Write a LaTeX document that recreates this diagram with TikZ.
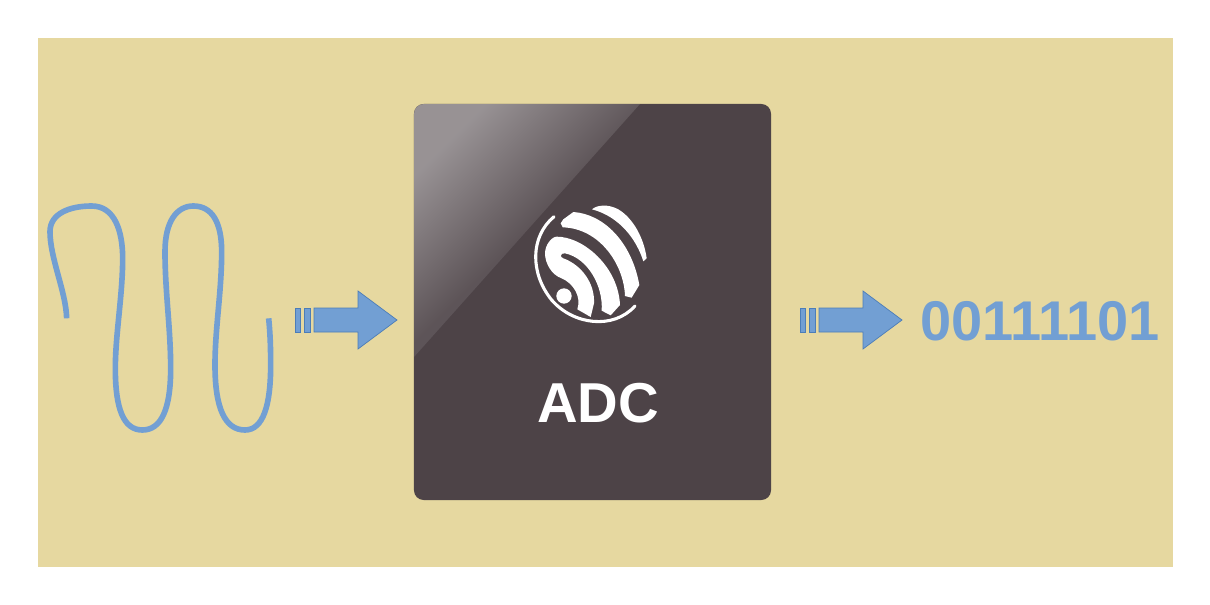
\documentclass[tikz,border=0pt]{standalone}
\usepackage{fontspec}
\setmainfont{Liberation Sans}
\usepackage{xcolor}
\usetikzlibrary{positioning, calc}
\definecolor{sfondo}{HTML}{E6D8A0}
\definecolor{chipcol}{HTML}{4D4347}
\definecolor{blu}{HTML}{729FD3}
\definecolor{blubordo}{HTML}{4C7DB8}
\tikzset{
    sfondobox/.style={fill=sfondo, draw=none, minimum width=28.375cm, minimum height=13.225cm, inner sep=0pt},
    chipbox/.style={fill=chipcol, draw=none, rounded corners=7pt, minimum width=8.925cm, minimum height=9.9cm, inner sep=0pt},
    freccia/.style={fill=blu, draw=blubordo, line width=0.5pt, line join=miter},
    onda/.style={draw=blu, line width=4pt, line cap=butt},
    logo/.style={fill=white, draw=none},
    titolo/.style={font=\bfseries\fontsize{40}{44}\selectfont, text=white, inner sep=0pt},
    bits/.style={font=\bfseries\fontsize{39.8}{44}\selectfont, text=blu, inner sep=0pt}
}
\begin{document}
\begin{tikzpicture}[x=0.025cm, y=-0.025cm]
    \useasboundingbox (0,0) rectangle (1210,605);
    \node[sfondobox] (Sfondo) at (605.5,302.5) {};
    \node[chipbox] (Chip) at (592.5,302) {};

    \shade[top color=white!42!chipcol, bottom color=white!9!chipcol, middle color=white!9!chipcol, shading angle=45]
        (414,357) {[rounded corners=7pt] -- (414,104)} -- (640,104) -- cycle;

    \begin{scope}[shift={(520,190)}, scale=1/3]
        \fill[logo] (216,58) .. controls (232,44) and (265,42) .. (295,58) .. controls (340,85) and (372,145) .. (380,205) -- (370,214) .. controls (350,150) and (300,80) .. (216,58) -- cycle;
        \fill[logo] (160,66) .. controls (250,72) and (335,155) .. (358,285) -- (335,323) -- (315,318) .. controls (312,225) and (240,115) .. (128,112) -- (122,100) -- (130,88) -- cycle;
        \fill[logo] (110,140) .. controls (190,140) and (295,230) .. (300,345) -- (272,376) -- (245,362) .. controls (250,290) and (205,205) .. (135,190) .. controls (122,188) and (118,202) .. (130,205) .. controls (185,225) and (225,280) .. (222,340) -- (212,381) -- (172,358) .. controls (185,320) and (160,280) .. (125,265) .. controls (95,255) and (75,220) .. (75,190) .. controls (75,165) and (95,140) .. (110,140) -- cycle;
        \fill[logo] (132,318) circle (23);
        \draw[white, line width=2.2pt, line cap=round] (102,80) .. controls (30,140) and (30,250) .. (95,330) .. controls (160,405) and (280,420) .. (345,348);
    \end{scope}

    \node[titolo] (Adc) at (598,403) {ADC};

    \begin{scope}[shift={(40,195)}, scale=1/3]
        \draw[onda] (80,370) .. controls (78,290) and (30,190) .. (30,110)
            .. controls (30,55) and (90,33) .. (155,33)
            .. controls (225,33) and (248,110) .. (248,190)
            .. controls (248,300) and (226,420) .. (226,520)
            .. controls (226,640) and (250,705) .. (307,705)
            .. controls (365,705) and (392,640) .. (392,520)
            .. controls (392,400) and (375,290) .. (375,170)
            .. controls (375,80) and (410,33) .. (460,33)
            .. controls (515,33) and (545,80) .. (545,170)
            .. controls (545,290) and (525,400) .. (525,510)
            .. controls (525,640) and (555,705) .. (615,705)
            .. controls (670,705) and (692,630) .. (692,510)
            .. controls (692,450) and (690,410) .. (686,370);
    \end{scope}

    \draw[freccia] (295.5,308) rectangle (300.5,332);
    \draw[freccia] (304.5,308) rectangle (310,332);
    \draw[freccia] (314,308) -- (358,308) -- (358,291) -- (397,320) -- (358,349) -- (358,332) -- (314,332) -- cycle;

    \draw[freccia] (800.5,308) rectangle (805.5,332);
    \draw[freccia] (809.5,308) rectangle (815,332);
    \draw[freccia] (819,308) -- (863,308) -- (863,291) -- (902,320) -- (863,349) -- (863,332) -- (819,332) -- cycle;

    \node[bits] (Bits) at (1040,321) {00111101};
\end{tikzpicture}
\end{document}
